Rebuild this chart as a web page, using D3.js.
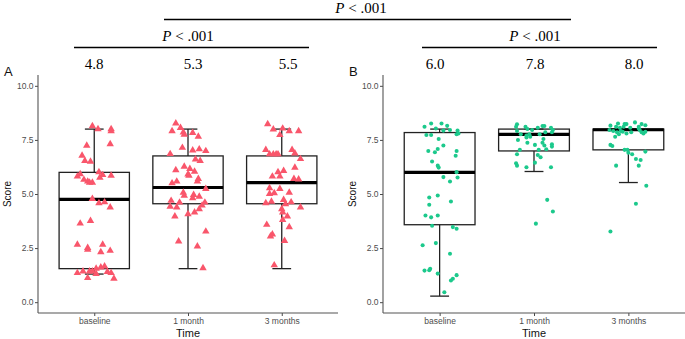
<!DOCTYPE html>
<html>
<head>
<meta charset="utf-8">
<script src="https://cdn.jsdelivr.net/npm/d3@7"></script>
<style>
  body { margin: 0; background: #fff; }
  svg { display: block; }
  .tick text { font-family: "Liberation Sans", Arial, sans-serif; }
</style>
</head>
<body>
<script>
// score by time, two panels (A triangles, B dots), jittered points + boxplot

const W = 685, H = 339
const times = ['baseline', '1 month', '3 months']
const yTicks = [0, 2.5, 5, 7.5, 10]

// box stats: [lower whisker, q1, median, q3, upper whisker]
const boxA = [
  [1.3, 1.55, 4.75, 6.0, 8.0],
  [1.55, 4.55, 5.3, 6.76, 8.0],
  [1.55, 4.55, 5.53, 6.76, 8.0]
]
const boxB = [
  [0.28, 3.58, 6.0, 7.84, 8.0],
  [6.04, 6.99, 7.76, 8.0, 8.0],
  [5.53, 7.04, 7.97, 8.0, 8.0]
]

// points: [jitter (category units), score]
const ptsA_base = [[-0.02,8.14],[0.04,8.0],[0.18,8.0],[0.18,7.91],[-0.08,7.24],[0.17,7.31],[-0.13,6.78],[-0.10,6.53],[-0.04,6.50],[0.05,6.01],[-0.15,5.92],[-0.18,5.81],[0.09,5.88],[0.18,5.85],[-0.11,5.66],[-0.07,5.58],[-0.05,5.53],[-0.02,5.53],[0.06,5.76],[-0.02,4.78],[0.05,4.58],[0.11,4.62],[0.17,4.38],[-0.15,3.64],[-0.04,3.76],[-0.18,2.66],[-0.07,2.51],[-0.07,2.43],[0.09,2.66],[0.07,2.32],[0.17,2.38],[-0.18,1.35],[-0.12,1.43],[-0.05,1.43],[-0.02,1.43],[0.02,1.55],[0.07,1.61],[0.11,1.66],[0.14,1.40],[0.18,1.35],[-0.07,1.12],[0.21,1.09],[0.02,1.31]]
const ptsA_1m = [[-0.13,8.27],[-0.17,7.91],[-0.08,8.06],[-0.05,7.85],[-0.04,7.75],[0.05,7.83],[0.11,7.65],[-0.06,7.14],[-0.19,6.85],[0.05,7.02],[0.12,7.07],[0.19,6.99],[0.08,6.60],[0.13,6.53],[-0.13,6.11],[-0.04,6.27],[0.02,6.16],[0,5.91],[0.07,6.04],[0.01,5.85],[0.11,5.70],[0.10,5.58],[-0.17,5.50],[-0.12,5.58],[0.19,5.24],[-0.05,5.07],[-0.04,4.93],[0.06,4.96],[0.12,4.88],[0.05,4.81],[-0.18,4.69],[-0.19,4.42],[-0.09,4.61],[-0.12,4.38],[0.18,4.61],[0.15,4.47],[0.12,4.30],[0.07,4.15],[0,4.07],[-0.14,3.97],[0.19,3.27],[-0.10,2.81],[0.10,2.58],[0.16,1.58]]
const ptsA_3m = [[-0.15,8.23],[-0.09,7.99],[0.01,8.03],[0.08,7.91],[0.18,7.91],[-0.02,7.73],[-0.17,7.04],[-0.13,6.84],[-0.09,6.84],[-0.06,6.84],[-0.04,6.84],[0.11,7.04],[0.14,6.88],[0.20,6.62],[0.14,6.22],[-0.04,6.01],[0.02,6.07],[-0.10,5.81],[-0.02,5.81],[0.13,5.70],[0.18,5.68],[-0.13,5.27],[-0.02,5.24],[-0.13,5.01],[-0.08,5.04],[0.08,5.07],[-0.17,4.58],[-0.11,4.65],[0.02,4.73],[0.04,4.53],[0.10,4.62],[0.20,4.38],[0,4.30],[0.01,4.15],[0.06,3.97],[0.01,3.81],[-0.16,3.58],[0.08,3.47],[-0.10,3.14],[-0.12,3.04],[0.03,2.84],[-0.08,1.71]]
const ptsB_base = [[-0.16,8.11],[-0.09,8.26],[0.02,8.26],[0.08,8.15],[-0.04,8.03],[0.04,7.93],[0.11,7.96],[0.19,7.93],[0.20,7.80],[-0.14,7.73],[-0.09,7.73],[0.18,7.76],[-0.01,7.54],[0.04,7.24],[-0.02,7.08],[-0.05,6.93],[-0.12,6.99],[0.18,6.99],[0.17,6.77],[-0.08,6.50],[-0.02,6.31],[-0.01,6.22],[0.18,6.01],[0.19,5.76],[0.04,5.78],[0.11,5.58],[-0.11,4.84],[-0.02,4.93],[0.12,4.65],[-0.11,4.50],[-0.15,4.01],[-0.09,3.92],[-0.02,4.01],[-0.08,3.53],[0.14,3.47],[0.18,3.39],[-0.18,2.63],[-0.04,2.73],[0.11,2.24],[-0.16,1.46],[-0.11,1.48],[-0.10,1.54],[-0.02,1.32],[0.18,1.25],[0.14,1.08],[0.12,1.00],[0.05,0.46]]
const ptsB_1m = [[-0.19,8.11],[-0.18,8.22],[-0.09,8.11],[-0.07,8.0],[-0.02,7.96],[0.04,8.06],[0.09,8.14],[0.11,8.14],[0.18,8.06],[0.20,7.96],[-0.18,7.91],[-0.14,7.76],[-0.08,7.70],[-0.05,7.76],[-0.04,7.65],[-0.08,7.61],[0.06,7.76],[0.12,7.85],[0.19,7.85],[0.10,7.54],[-0.17,7.50],[-0.07,7.37],[0.09,7.37],[0.19,7.30],[0.01,7.27],[0.11,7.24],[0.19,7.19],[-0.15,7.04],[0.05,7.04],[0.13,7.07],[-0.18,6.84],[0.04,6.80],[0.07,6.70],[-0.19,6.42],[-0.18,6.31],[0.01,6.45],[-0.08,6.24],[0.18,6.24],[0.14,4.73],[0.20,4.19],[0.02,3.63]]
const ptsB_3m = [[-0.19,8.16],[-0.11,8.26],[-0.04,8.23],[-0.02,8.23],[0.07,8.31],[0.14,8.23],[0.18,8.18],[-0.13,8.11],[-0.09,8.06],[-0.05,8.11],[0.02,8.06],[0.11,8.11],[-0.20,7.96],[-0.16,7.91],[-0.12,7.85],[-0.08,7.91],[0.12,7.96],[0.18,7.88],[-0.10,7.76],[-0.06,7.88],[-0.02,7.80],[0.03,7.85],[0.14,7.85],[0.16,7.80],[0.11,8.03],[-0.14,7.65],[-0.19,7.27],[-0.17,7.22],[-0.04,7.04],[-0.01,7.04],[0,6.91],[0.04,6.84],[0.18,6.96],[0.08,6.62],[0.13,6.57],[-0.13,6.31],[0.11,6.31],[0.19,5.38],[0.08,4.55],[-0.19,3.27]]

const pointsA = [ptsA_base, ptsA_1m, ptsA_3m]
const pointsB = [ptsB_base, ptsB_1m, ptsB_3m]
const meansA = ['4.8', '5.3', '5.5']
const meansB = ['6.0', '7.8', '8.0']

const svg = d3.select('body').append('svg').attr('width', W).attr('height', H)

const y = d3.scaleLinear().domain([-0.5, 10.5]).range([313, 75])

function panel (left, right, boxes, points, shape, color, tag) {
  const x = d3.scaleLinear().domain([0.4, 3.6]).range([left, right])
  const g = svg.append('g')
  const band = x(2) - x(1)
  const bw = band * 0.75
  const cap = band * 0.2

  // y axis
  const ya = g.append('g')
    .attr('transform', 'translate(' + left + ',0)')
    .call(d3.axisLeft(y).tickValues(yTicks).tickFormat(d3.format('.1f')).tickSize(3).tickPadding(1.5))
  ya.select('.domain').remove()
  ya.selectAll('.tick line').attr('stroke', '#333').attr('stroke-width', 0.9)
  ya.selectAll('.tick text').attr('fill', '#4d4d4d').style('font-size', '8.5px')
  g.append('line').attr('x1', left).attr('x2', left).attr('y1', y(10.5)).attr('y2', y(-0.5))
    .attr('stroke', '#555').attr('stroke-width', 1.1)

  // x axis
  const xa = g.append('g')
    .attr('transform', 'translate(0,' + y(-0.5) + ')')
    .call(d3.axisBottom(x).tickValues([1, 2, 3]).tickFormat(i => times[i - 1]).tickSize(3).tickPadding(2))
  xa.select('.domain').remove()
  xa.selectAll('.tick line').attr('stroke', '#333').attr('stroke-width', 0.9)
  xa.selectAll('.tick text').attr('fill', '#4d4d4d').style('font-size', '8.5px')
  g.append('line').attr('x1', left).attr('x2', right).attr('y1', y(-0.5)).attr('y2', y(-0.5))
    .attr('stroke', '#555').attr('stroke-width', 1.1)

  // titles
  g.append('text').attr('x', (left + right) / 2).attr('y', 337)
    .attr('text-anchor', 'middle').attr('font-family', 'Liberation Sans, Arial, sans-serif')
    .attr('font-size', 11).attr('fill', '#111').text('Time')
  g.append('text').attr('transform', 'translate(' + (left - 27) + ',' + y(5) + ') rotate(-90)')
    .attr('text-anchor', 'middle').attr('font-family', 'Liberation Sans, Arial, sans-serif')
    .attr('font-size', 10).attr('fill', '#111').text('Score')
  g.append('text').attr('x', left - 34).attr('y', 76)
    .attr('font-family', 'Liberation Sans, Arial, sans-serif')
    .attr('font-size', 13).attr('fill', '#111').text(tag)

  // boxes
  boxes.forEach((b, i) => {
    const cx = x(i + 1)
    const bg = g.append('g').attr('stroke', '#222').attr('stroke-width', 1.3).attr('fill', 'none')
    bg.append('line').attr('x1', cx).attr('x2', cx).attr('y1', y(b[3])).attr('y2', y(b[4]))
    bg.append('line').attr('x1', cx).attr('x2', cx).attr('y1', y(b[1])).attr('y2', y(b[0]))
    bg.append('line').attr('x1', cx - cap / 2).attr('x2', cx + cap / 2).attr('y1', y(b[4])).attr('y2', y(b[4]))
    bg.append('line').attr('x1', cx - cap / 2).attr('x2', cx + cap / 2).attr('y1', y(b[0])).attr('y2', y(b[0]))
    bg.append('rect').attr('x', cx - bw / 2).attr('y', y(b[3]))
      .attr('width', bw).attr('height', y(b[1]) - y(b[3]))
    bg.append('line').attr('x1', cx - bw / 2).attr('x2', cx + bw / 2).attr('y1', y(b[2])).attr('y2', y(b[2]))
      .attr('stroke', '#000').attr('stroke-width', 3.2)
  })

  // points
  points.forEach((pts, i) => {
    g.append('g').selectAll('path')
      .data(pts)
      .enter()
      .append('path')
      .attr('transform', d => 'translate(' + x(i + 1 + d[0]) + ',' + y(d[1]) + ')')
      .attr('d', shape)
      .attr('fill', color)
  })
  return x
}

const triangle = d3.symbol(d3.symbolTriangle, 24)()
const dot = d3.symbol(d3.symbolCircle, 13)()
panel(38, 338, boxA, pointsA, triangle, '#F9566B', 'A')
panel(383, 685, boxB, pointsB, dot, '#1CC98C', 'B')

// annotations (mean scores and P values)
const serif = 'Liberation Serif, Times New Roman, serif'
const meanX = [94, 193, 288, 435, 535, 634]
meansA.concat(meansB).forEach((m, i) => {
  svg.append('text').attr('x', meanX[i]).attr('y', 69).attr('text-anchor', 'middle')
    .attr('font-family', serif).attr('font-size', 15).attr('fill', '#000').text(m)
})

const brackets = [
  { x1: 164, x2: 571, y: 19.5, tx: 361, ty: 13 },
  { x1: 74, x2: 309, y: 47.5, tx: 188, ty: 41 },
  { x1: 422, x2: 657, y: 47.5, tx: 535, ty: 41 }
]
brackets.forEach(b => {
  svg.append('line').attr('x1', b.x1).attr('x2', b.x2).attr('y1', b.y).attr('y2', b.y)
    .attr('stroke', '#000').attr('stroke-width', 1.4)
  const t = svg.append('text').attr('x', b.tx).attr('y', b.ty).attr('text-anchor', 'middle')
    .attr('font-family', serif).attr('font-size', 15).attr('fill', '#000')
  t.append('tspan').attr('font-style', 'italic').text('P')
  t.append('tspan').text(' < .001')
})
</script>
</body>
</html>
